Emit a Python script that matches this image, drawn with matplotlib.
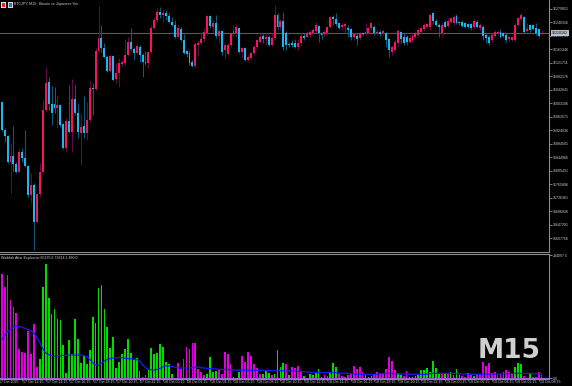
import matplotlib
matplotlib.use('Agg')
import matplotlib.pyplot as plt
import matplotlib.transforms as mtransforms
from matplotlib.patches import Rectangle
import numpy as np

# ---------------- data (prices in thousands of JPY) ----------------
opens = [16007,15925,15907,15831,15849,15825,15802,15861,15844,15819,15735,15764,15656,15738,15802,15984,16066,16001,16001,15990,
         15998,15943,15873,15952,15919,16016,15975,15916,15937,15916,15955,16048,16045,16157,16194,16166,16139,16098,16142,16075,
         16092,16118,16121,16145,16183,16163,16151,16169,16145,16124,16121,16154,16224,16247,16271,16262,16268,16259,16241,16233,
         16198,16221,16189,16157,16151,16124,16113,16175,16180,16192,16209,16259,16227,16239,16201,16215,16160,16148,16175,16206,
         16209,16224,16154,16166,16130,16136,16151,16169,16183,16201,16192,16198,16175,16195,16262,16227,16244,16209,16178,16180,
         16180,16169,16180,16201,16198,16203,16209,16215,16230,16209,16206,16209,16227,16256,16250,16239,16227,16230,16224,16221,
         16198,16201,16195,16209,16206,16209,16224,16227,16209,16212,16209,16209,16192,16154,16160,16180,16212,16198,16198,16183,
         16189,16198,16203,16212,16221,16227,16227,16268,16244,16233,16209,16241,16230,16241,16239,16259,16241,16241,16239,16236,
         16236,16227,16241,16224,16227,16203,16198,16189,16201,16209,16212,16209,16203,16192,16189,16189,16233,16250,16256,16215,
         16233,16233,16224,16221,16206]
highs = [16010,15932,15910,15887,15937,15831,15873,15873,15925,15822,15799,15770,15741,15828,16013,16110,16081,16054,16051,16027,
         16001,15946,15961,16057,16075,16057,16001,15975,16024,16007,16069,16063,16166,16288,16232,16180,16145,16145,16145,16121,
         16136,16130,16192,16198,16224,16169,16177,16175,16151,16157,16157,16232,16256,16283,16285,16280,16277,16268,16256,16247,
         16233,16227,16206,16160,16160,16130,16183,16189,16209,16224,16262,16262,16247,16262,16221,16218,16180,16180,16212,16233,
         16236,16227,16169,16169,16145,16154,16175,16192,16209,16209,16209,16203,16209,16291,16268,16250,16271,16215,16183,16189,
         16192,16192,16209,16209,16215,16218,16224,16242,16233,16212,16218,16230,16259,16262,16268,16239,16239,16239,16233,16224,
         16209,16209,16212,16212,16239,16227,16241,16233,16218,16218,16221,16212,16195,16175,16189,16221,16215,16209,16203,16203,
         16206,16215,16224,16227,16239,16239,16268,16271,16250,16239,16239,16247,16253,16256,16262,16265,16244,16247,16241,16239,
         16239,16250,16247,16239,16233,16209,16203,16209,16218,16218,16221,16212,16209,16201,16201,16239,16256,16268,16259,16239,
         16236,16236,16239,16224,16218]
lows = [15922,15890,15828,15741,15802,15799,15799,15831,15817,15730,15711,15574,15653,15730,15799,15978,15984,15940,15975,15932,
        15934,15870,15861,15916,15861,15969,15901,15822,15901,15896,15949,15969,16042,16154,16154,16136,16095,16095,16069,16063,
        16051,16110,16115,16142,16157,16130,16148,16124,16081,16115,16107,16151,16218,16241,16253,16241,16247,16239,16230,16195,
        16195,16186,16148,16139,16115,16110,16107,16145,16175,16183,16203,16224,16212,16195,16180,16145,16136,16145,16169,16201,
        16198,16151,16136,16127,16127,16130,16145,16163,16180,16180,16175,16172,16172,16189,16221,16218,16160,16160,16169,16169,
        16166,16160,16175,16189,16195,16198,16203,16212,16183,16192,16201,16203,16224,16233,16230,16221,16218,16209,16198,16189,
        16189,16175,16189,16203,16203,16209,16218,16203,16203,16201,16203,16169,16139,16145,16154,16169,16180,16175,16175,16180,
        16183,16195,16198,16209,16215,16224,16218,16236,16230,16198,16198,16224,16227,16239,16233,16236,16233,16227,16224,16224,
        16218,16221,16224,16218,16189,16180,16175,16183,16198,16203,16195,16198,16183,16183,16186,16183,16227,16244,16209,16212,
        16212,16218,16203,16198,16203]
closes = [15925,15907,15831,15849,15825,15802,15861,15844,15819,15735,15764,15656,15738,15802,15984,16063,16001,15975,15990,15998,
          15940,15873,15952,15919,16016,15975,15919,15934,15916,15955,16048,16045,16157,16194,16166,16139,16098,16142,16072,16092,
          16121,16124,16145,16183,16163,16151,16172,16145,16124,16121,16154,16224,16247,16271,16262,16268,16259,16241,16233,16198,
          16224,16189,16151,16148,16121,16113,16177,16180,16192,16212,16259,16230,16239,16201,16215,16154,16175,16175,16209,16215,
          16227,16154,16166,16130,16139,16151,16169,16189,16198,16192,16198,16175,16195,16262,16227,16244,16169,16175,16175,16175,
          16169,16180,16201,16195,16209,16212,16218,16233,16209,16203,16212,16227,16256,16250,16236,16224,16233,16236,16218,16198,
          16206,16192,16209,16206,16212,16224,16239,16209,16212,16206,16215,16189,16160,16169,16183,16215,16192,16180,16183,16195,
          16201,16209,16218,16224,16233,16236,16262,16244,16233,16227,16233,16227,16244,16253,16256,16239,16239,16230,16227,16227,
          16224,16244,16227,16233,16201,16195,16180,16203,16212,16212,16198,16201,16189,16198,16198,16233,16253,16262,16212,16221,
          16218,16221,16209,16201,16210]

# Waddah Attar Explosion histogram (thousands), colour code g=up m=down
wae_hist = [197.2,173.8,195.9,148.5,135.9,123.2,55.0,50.6,48.7,89.7,45.5,103.6,22.1,
            37.3,173.8,217.4,151.7,121.3,132.1,111.9,110.0,62.6,10.7,72.7,45.5,113.1,75.2,28.4,42.3,27.8,53.7,116.9,104.3,
            170.6,176.3,132.1,97.3,56.9,79.0,20.2,31.0,45.5,55.0,73.9,48.7,34.8,39.2,13.9,
            1.9,6.3,
            15.2,58.1,45.5,48.7,64.5,59.4,31.6,26.5,7.6,1.0,
            29.7,18.3,36.0,59.4,56.2,67.6,67.6,17.1,
            12.6,5.7,8.8,40.4,12.6,13.9,15.8,7.6,49.9,45.5,26.5,2.5,1.0,12.0,42.3,31.0,49.9,42.3,26.5,20.2,7.6,
            7.6,13.9,9.5,6.3,8.8,53.1,21.5,29.7,27.2,6.3,21.5,19.6,22.8,12.6,4.4,1.5,8.8,6.3,10.7,18.3,2.0,
            6.3,3.8,12.6,29.1,21.5,8.8,4.4,2.5,6.3,7.6,23.4,18.3,22.1,11.4,6.3,2.5,3.8,
            6.3,12.6,10.7,8.8,18.3,41.1,32.9,15.2,10.7,6.3,3.8,13.3,3.2,2.5,3.8,6.3,15.8,15.8,20.2,12.6,32.2,20.2,10.1,
            10.1,7.6,7.6,12.0,6.3,17.1,6.3,3.8,2.5,9.5,6.3,4.4,6.3,6.3,30.3,23.4,28.4,9.5,12.6,6.3,7.6,12.6,15.8,12.6,10.7,
            21.5,29.7,26.5,4.4,1.5,7.6,2.5,2.5,12.0,6.3]
wae_dir = ('m' * 13 + 'g' * 35 + 'mm' + 'g' * 10 + 'm' * 8 +
           'mm' + 'gggg' + 'mmmmm' + 'ggg' + 'mmmmmmm' + 'ggg' + 'm' + 'gggg' + 'm' + 'g' + 'mmmm' +
           'ggggggg' + 'mm' + 'ggg' + 'mmmmmmmmm' + 'ggg' + 'mmmmmmmm' + 'gg' + 'mm' + 'ggggggggggg' +
           'm' + 'g' + 'm' + 'gggg' + 'mmmm' + 'g' + 'mmmmmmmmmmmmm' + 'ggg' + 'm' + 'gg' + 'mmmm')
wae_line = [73.9,81.5,89.1,92.9,97.3,99.2,98.0,96.7,94.8,92.9,90.4,86.0,77.1,67.6,56.2,48.0,44.9,43.0,42.3,43.0,
            43.0,43.6,43.6,44.2,44.2,44.2,44.2,44.2,43.0,41.1,36.0,29.7,25.9,24.6,28.4,32.9,36.0,37.3,38.6,39.2,
            39.2,39.2,37.9,37.3,37.3,36.7,35.4,32.9,26.5,20.2,17.1,16.4,15.8,17.1,19.0,22.1,23.4,23.4,22.1,21.5,
            20.2,19.6,19.6,19.6,20.2,20.2,20.9,21.5,
            20.2,19.6,19.0,18.3,18.3,17.7,17.1,17.1,17.1,16.4,16.4,15.8,15.8,
            15.2,15.2,15.2,15.2,15.2,15.2,15.2,15.2,15.2,
            14.5,14.5,14.5,14.5,14.5,14.5,14.5,
            13.9,13.9,13.9,13.9,13.3,13.3,12.6,12.0,11.4,11.4,
            10.7,10.7,10.7,10.7,10.7,10.7,10.7,10.7,10.1,10.1,10.1,9.5,8.8,8.2,
            7.6,7.6,7.6,7.6,7.6,7.6,7.6,7.6,8.2,8.8,9.5,9.5,9.5,8.8,8.8,8.2,8.2,8.2,
            7.6,7.6,7.6,7.6,7.6,7.6,8.2,8.8,
            9.5,9.5,9.5,9.5,9.5,9.5,9.5,9.5,8.8,8.8,8.2,8.2,
            7.6,7.6,7.6,7.6,7.6,7.6,7.6,7.6,8.2,8.2,8.2,8.2,8.8,8.8,8.8,8.8,
            9.5,9.5,9.5,9.5,9.5,9.5,8.8,8.8,8.8,8.8]
dead_zone = 0.48

price_tick_labels = ['16279851','16240316','16200781','16161246','16121711','16082176','16042641','16003106',
                     '15963571','15924036','15884501','15844966','15805431','15765896','15726361','15686826',
                     '15647291','15607756']
current_price = 16210182
wae_top_label = '234097.5'
time_labels = ['17 Oct 12:15','17 Oct 14:15','17 Oct 16:15','17 Oct 18:15','17 Oct 20:15','17 Oct 22:15',
               '18 Oct 00:15','18 Oct 02:15','18 Oct 04:15','18 Oct 06:15','18 Oct 08:15','18 Oct 10:15',
               '18 Oct 12:15','18 Oct 14:15','18 Oct 16:15','18 Oct 18:15','18 Oct 20:15','18 Oct 22:15',
               '19 Oct 00:15','19 Oct 02:15','19 Oct 04:15','19 Oct 06:15','19 Oct 08:15']
first_time_label = '17 Oct 2025'
title = 'BTCJPY, M15:  Bitcoin vs Japanese Yen'
ind_title = 'Waddah Attar Explosion 65235.6 72814.1 480.0'

N = len(opens)
for name, arr in [('highs', highs), ('lows', lows), ('closes', closes), ('hist', wae_hist),
                  ('dir', wae_dir), ('line', wae_line)]:
    if len(arr) != N:
        raise SystemExit(f'length mismatch {name}: {len(arr)} vs {N}')

# ---------------- figure ----------------
plt.rcParams['font.family'] = ['Liberation Sans', 'DejaVu Sans']
W, H = 572, 386
fig = plt.figure(figsize=(W / 100, H / 100), dpi=100, facecolor='black')

def fx(px):
    return px / W

def fy(py):
    return 1 - py / H

axis_col = '#8c8c8c'
txt_col = '#cccccc'
fs = 2.6

ax = fig.add_axes([0, fy(252), fx(548.5), 252 / H])
ax2 = fig.add_axes([0, fy(378.5), fx(548.5), (378.5 - 254) / H], sharex=ax)
for a in (ax, ax2):
    a.set_facecolor('black')
    for s in ('left', 'top', 'bottom', 'right'):
        a.spines[s].set_visible(False)
    a.spines['right'].set_visible(True)
    a.spines['right'].set_color(axis_col)
    a.spines['right'].set_linewidth(0.8)
ax.spines['bottom'].set_visible(True)
ax.spines['bottom'].set_color(axis_col)
ax.spines['bottom'].set_linewidth(0.8)
ax2.spines['top'].set_visible(True)
ax2.spines['top'].set_color(axis_col)
ax2.spines['top'].set_linewidth(0.8)
ax2.spines['bottom'].set_visible(True)
ax2.spines['bottom'].set_color(axis_col)
ax2.spines['bottom'].set_linewidth(0.8)

x = np.arange(N)
o = np.array(opens, float)
h = np.array(highs, float)
l = np.array(lows, float)
c = np.array(closes, float)
up = c >= o

bull_body, bear_body = '#f2155f', '#1ab8f0'
bull_wick, bear_wick = '#5e0c45', '#0b5a7a'

ax.vlines(x[up], l[up], h[up], color=bull_wick, lw=0.75, zorder=2)
ax.vlines(x[~up], l[~up], h[~up], color=bear_wick, lw=0.75, zorder=2)
body_h = np.maximum(np.abs(c - o), 2.0)
body_b = np.minimum(o, c)
ax.bar(x[up], body_h[up], bottom=body_b[up], width=0.66, color=bull_body, lw=0, zorder=3)
ax.bar(x[~up], body_h[~up], bottom=body_b[~up], width=0.66, color=bear_body, lw=0, zorder=3)

ax.axhline(current_price / 1000, color='#5a5a5a', lw=0.8, zorder=1)

ax.set_xlim(-0.58, 186.36)
ax.set_ylim(15568.2, 16306.2)

tick_vals = [int(t) / 1000 for t in price_tick_labels]
ax.yaxis.tick_right()
ax.set_yticks(tick_vals)
ax.set_yticklabels(price_tick_labels)
ax.tick_params(axis='y', colors=axis_col, labelcolor=txt_col, labelsize=fs, length=2, width=0.6, pad=0.8)
ax.tick_params(axis='x', bottom=False, labelbottom=False)

# current price label box
ax.text(1.006, current_price / 1000, str(current_price),
        transform=mtransforms.blended_transform_factory(ax.transAxes, ax.transData),
        fontsize=fs, color='black', ha='left', va='center',
        bbox=dict(boxstyle='square,pad=0.3', facecolor='#b4c0cc', edgecolor='none'), zorder=5, clip_on=False)

# indicator
hv = np.array(wae_hist)
g = np.array([d == 'g' for d in wae_dir])
ax2.bar(x[g], hv[g], width=0.6, color='#00dc00', lw=0, zorder=2)
ax2.bar(x[~g], hv[~g], width=0.6, color='#e000e0', lw=0, zorder=2)
ax2.plot(x, wae_line, color='#1a1aff', lw=0.9, zorder=3)
ax2.axhline(dead_zone, color='#a060d8', lw=0.7, zorder=3)
ax2.set_ylim(-0.3, 236.0)
ax2.yaxis.tick_right()
ax2.set_yticks([234.0975, 0.0])
ax2.set_yticklabels([wae_top_label, '0.0'])
ax2.tick_params(axis='y', colors=axis_col, labelcolor=txt_col, labelsize=fs, length=2, width=0.6, pad=0.8)

tick_idx = [7 + 8 * k for k in range(len(time_labels))]
ax2.set_xticks(tick_idx)
ax2.tick_params(axis='x', colors=axis_col, length=1.5, width=0.6, labelbottom=False)
blend = mtransforms.blended_transform_factory(ax2.transData, fig.transFigure)
for xi, lab in zip(tick_idx, time_labels):
    fig.text(xi + 0.3, fy(382), lab, transform=blend, fontsize=fs, color=txt_col, ha='left', va='center')
fig.text(fx(-1.0), fy(382), first_time_label, fontsize=fs, color=txt_col, ha='left', va='center')

# titles
fig.text(fx(14), fy(4.5), title, fontsize=fs, color=txt_col, ha='left', va='center')
fig.text(fx(1), fy(257.5), ind_title, fontsize=fs, color=txt_col, ha='left', va='center')
fig.patches.append(Rectangle((fx(1), fy(7.5)), fx(5), 5 / H, transform=fig.transFigure, facecolor='#e8e8e8', edgecolor='none'))
fig.patches.append(Rectangle((fx(2), fy(6.5)), fx(3), 3 / H, transform=fig.transFigure, facecolor='#e0203a', edgecolor='none'))
fig.patches.append(Rectangle((fx(8), fy(7.5)), fx(5), 5 / H, transform=fig.transFigure, facecolor='#d8d8d8', edgecolor='none'))
fig.patches.append(Rectangle((fx(9), fy(6.5)), fx(3), 3 / H, transform=fig.transFigure, facecolor='#3a6ad0', edgecolor='none'))

# watermark
fig.text(fx(478), fy(351), 'M15', fontsize=19, color='#cfcfcf', fontweight='bold',
         family='DejaVu Sans', ha='left', va='center', zorder=10)

fig.savefig('out.png', dpi=100, facecolor='black')
